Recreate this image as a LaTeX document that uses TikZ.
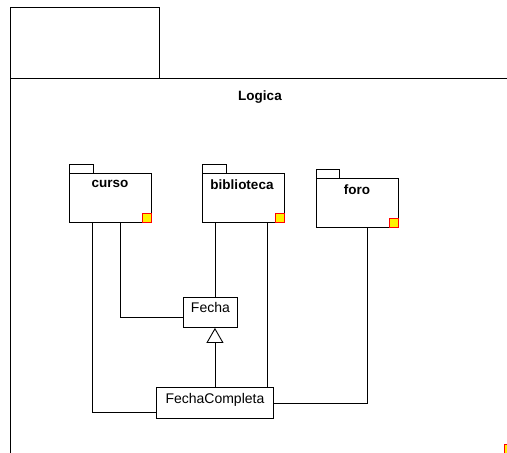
\documentclass[tikz,border=0pt]{standalone}
\usepackage{fontspec}
\setmainfont{Liberation Sans}
\usetikzlibrary{arrows.meta}
\begin{document}
\begin{tikzpicture}[x=1pt,y=-1pt,line width=0.9pt,
  pkgbody/.style={draw,rectangle,inner sep=0pt,anchor=north west},
  pkglabel/.style={font=\fontsize{13.5}{15}\selectfont\bfseries,inner sep=0pt,anchor=north},
  classbox/.style={draw,rectangle,inner sep=0pt,anchor=north west,font=\fontsize{14}{15}\selectfont,text height=10pt,text depth=9pt},
  marker/.style={draw=red,fill=yellow,line width=0.8pt},
  conn/.style={draw,line width=0.9pt}]
\useasboundingbox (0,0) rectangle (507,453);
\begin{scope}
\clip (0,0) rectangle (507,453);
% frame
\node[draw,rectangle,inner sep=0pt,minimum width=149pt,minimum height=71pt,anchor=north west] (tab) at (10,7) {};
\draw (10,78) coordinate (fl) -- (520,78) coordinate (fr);
\draw (fl) -- (10,470) coordinate (fb);
\node[font=\fontsize{13.5}{15}\selectfont\bfseries,inner sep=0pt] (logica) at (260,97) {Logica};
\draw[marker] (504,444) rectangle (514,454);
\end{scope}
% packages
\draw (69,164) rectangle (93,173);
\node[pkgbody,minimum width=82pt,minimum height=49pt] (curso) at (69,173) {};
\node[pkglabel] (cursol) at (110,179.5) {curso};
\draw[marker] (142,213) rectangle (151,222);

\draw (202,164) rectangle (226,173);
\node[pkgbody,minimum width=82pt,minimum height=49pt] (bib) at (202,173) {};
\node[pkglabel] (bibl) at (242,179.5) {biblioteca};
\draw[marker] (275,213) rectangle (284,222);

\draw (316,169) rectangle (339,178);
\node[pkgbody,minimum width=82pt,minimum height=49pt] (foro) at (316,178) {};
\node[pkglabel] (forol) at (357,184.5) {foro};
\draw[marker] (389,218) rectangle (398,227);

% classes
\node[classbox,minimum width=54pt,minimum height=30pt] (fecha) at (183,297) {Fecha};
\node[classbox,minimum width=117pt,minimum height=31pt] (fc) at (156,387) {FechaCompleta};

% connectors
\draw[conn] ([xshift=23pt]curso.south west) |- ([yshift=6pt]fc.south west);
\draw[conn] ([xshift=51pt]curso.south west) |- ([yshift=10pt]fecha.south west);
\draw[conn] ([xshift=13pt]bib.south west) -- ([xshift=13pt]bib.south west |- fecha.north);
\draw[conn] ([xshift=65pt]bib.south west) -- ([xshift=65pt]bib.south west |- fc.north);
\draw[conn] ([xshift=51pt]foro.south west) |- (fc.east);
\draw[conn,-{Triangle[open,length=15pt,width=17pt,fill=white]}] (fc.north) -- (fc.north |- fecha.south);
\end{tikzpicture}
\end{document}
